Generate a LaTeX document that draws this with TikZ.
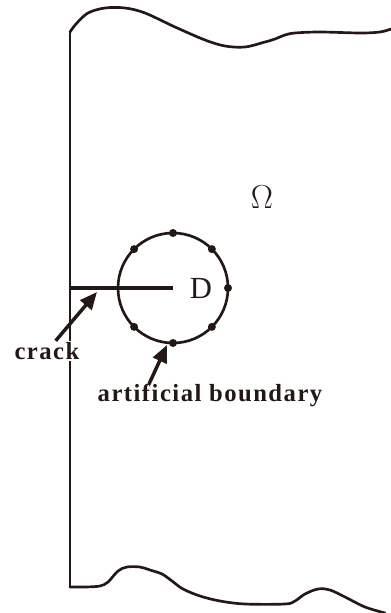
\documentclass[tikz,border=0pt]{standalone}
\usepackage{fontspec}
\setmainfont{Liberation Serif}
\usetikzlibrary{arrows.meta}

\definecolor{ink}{RGB}{35,24,21}
\tikzset{
  edge/.style={draw=ink, line width=2pt, line join=round, line cap=round},
  crackline/.style={draw=ink, line width=3.6pt},
  pointer/.style={draw=ink, fill=ink, line width=2.6pt, -{Triangle[length=13pt,width=11pt]}},
  tag/.style={text=ink, font=\fontsize{18.5}{20}\selectfont\bfseries\addfontfeature{LetterSpace=6}, fill=white, inner sep=1pt},
  sym/.style={text=ink, font=\fontsize{23}{25}\selectfont}
}

\begin{document}
\begin{tikzpicture}[x=0.75pt, y=-0.75pt]
\useasboundingbox (0,0) rectangle (391,613);

% outer boundary of the domain
\draw[edge] plot[smooth, tension=0.55] coordinates {(391,29) (380,32) (360,33) (320,32) (295,33) (285,35) (275,39) (265,42) (245,47) (225,46) (205,40) (175,27) (145,13) (125,8) (105,8) (88,13) (76,24) (70,32)};
\draw[edge] (70,32) -- (70,587);
\draw[edge] plot[smooth, tension=0.55] coordinates {(70,587) (85,587) (100,586) (108,582) (118,571) (127,567) (140,567) (150,570) (162,574) (172,581) (183,589) (200,596) (220,601) (245,604) (285,604) (295,601) (305,594) (318,589) (330,590) (345,597) (365,607) (385,613)};

% artificial boundary and crack
\coordinate (O) at (173,288);
\coordinate (mouth) at (70,288);
\draw[edge] (O) circle[radius=55];
\foreach \a in {0,45,90,135,225,270,315}
  \fill[ink] (O) ++(\a:55) circle[radius=4];
\draw[crackline] (mouth) -- (O);

\node[sym] (D) at (201,288) {D};
\node[sym] (omega) at (262,197) {$\Omega$};

% labels
\node[tag] (crack) at (47,351) {crack};
\coordinate (cracktip) at (97,292);
\draw[pointer] (crack) -- (cracktip);

\node[tag] (ab) at (210,395) {artificial boundary};
\coordinate (abtail) at (149,384);
\coordinate (abtip) at (167,345);
\draw[pointer] (abtail) -- (abtip);

\end{tikzpicture}
\end{document}
